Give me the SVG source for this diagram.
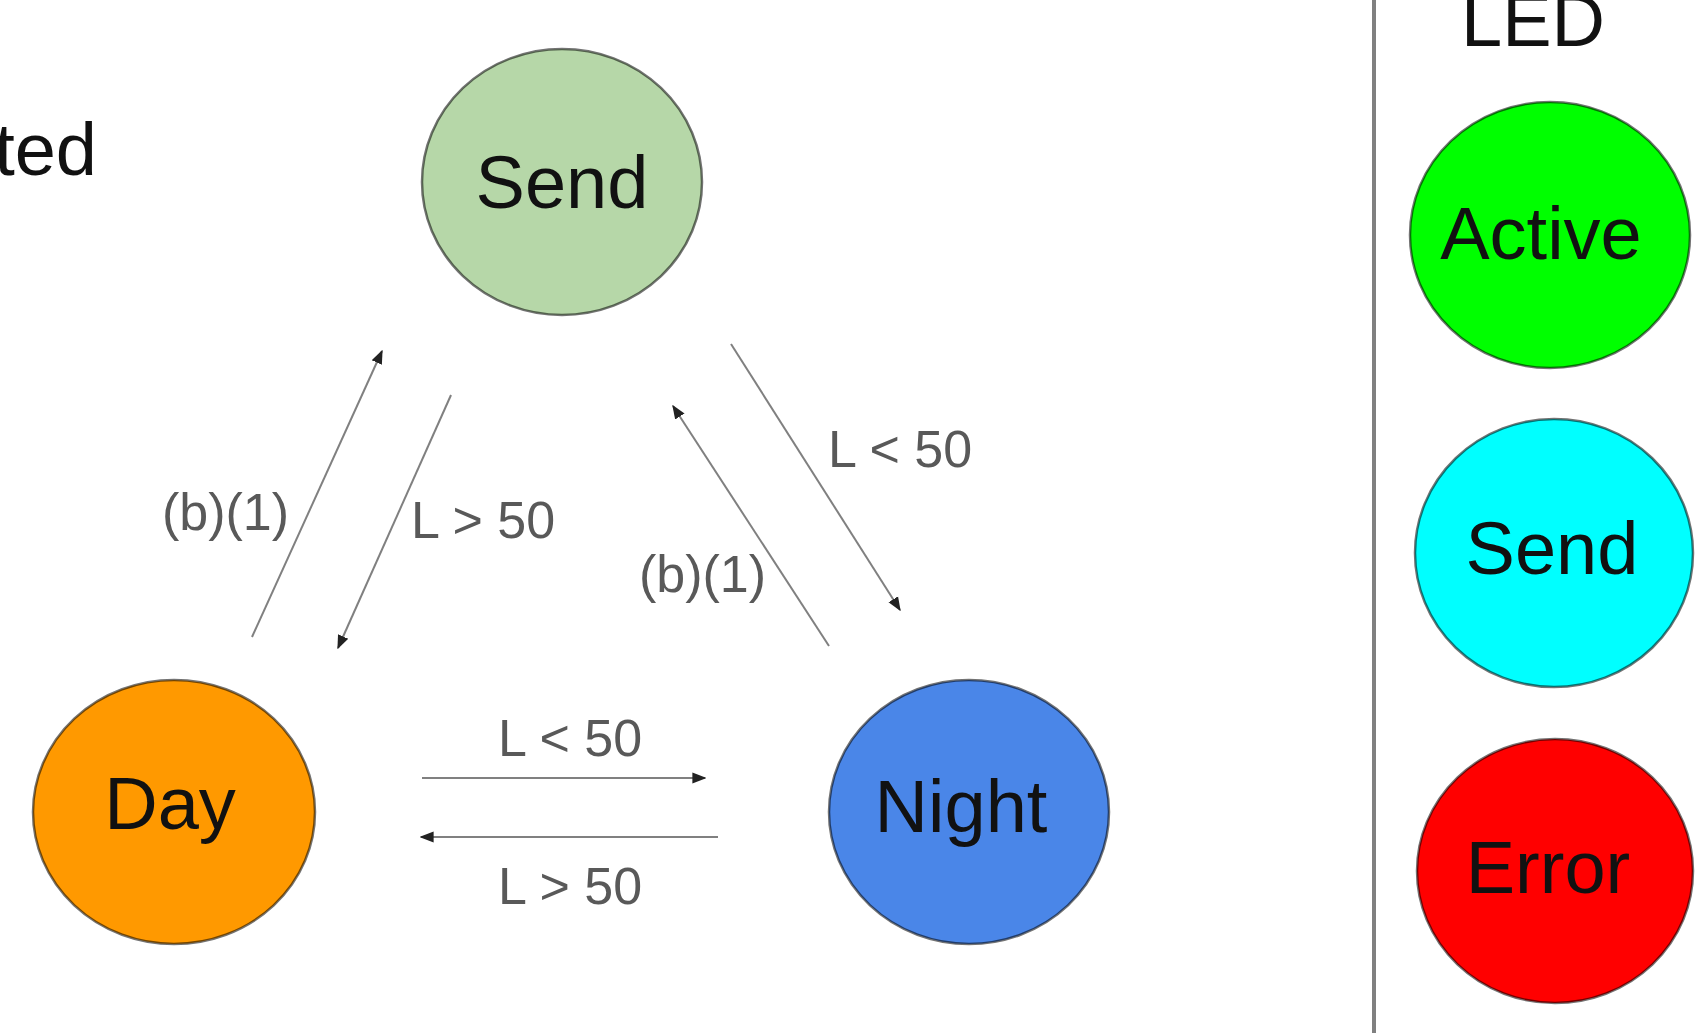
<svg xmlns="http://www.w3.org/2000/svg" width="1698" height="1033" viewBox="0 0 1698 1033">
  <style>
    .node { stroke: #000; stroke-opacity: 0.55; stroke-width: 2.5; }
    .name { font-family: "Liberation Sans", Arial, sans-serif; font-size: 74px; fill: #111; text-anchor: middle; }
    .edge { stroke: #808080; stroke-width: 2; fill: none; marker-end: url(#arrow); }
    .lbl { font-family: "Liberation Sans", Arial, sans-serif; font-size: 52px; fill: #595959; }
  </style>
  <defs>
    <marker id="arrow" viewBox="0 0 10 10" refX="9" refY="5" markerWidth="7" markerHeight="7" orient="auto" markerUnits="strokeWidth">
      <path d="M0,1 L10,5 L0,9 Z" fill="#222"/>
    </marker>
  </defs>
  <rect width="1698" height="1033" fill="#fff"/>

  <!-- partially visible heading at the left edge -->
  <text class="name" x="97" y="175" style="text-anchor:end">ted</text>

  <!-- state machine nodes -->
  <g id="node-send">
    <ellipse class="node" cx="562" cy="182" rx="140" ry="133" fill="#b6d7a8"/>
    <text class="name" x="562" y="208">Send</text>
  </g>
  <g id="node-day">
    <ellipse class="node" cx="174" cy="812" rx="141" ry="132" fill="#ff9900"/>
    <text class="name" x="170" y="829">Day</text>
  </g>
  <g id="node-night">
    <ellipse class="node" cx="969" cy="812" rx="140" ry="132" fill="#4a86e8"/>
    <text class="name" x="961" y="832">Night</text>
  </g>

  <!-- transitions -->
  <g id="connectors">
    <line class="edge" x1="252" y1="637" x2="382" y2="351"/>
    <line class="edge" x1="451" y1="395" x2="338" y2="648"/>
    <line class="edge" x1="829" y1="646" x2="673" y2="406"/>
    <line class="edge" x1="731" y1="344" x2="900" y2="610"/>
    <line class="edge" x1="422" y1="778" x2="705" y2="778"/>
    <line class="edge" x1="718" y1="837" x2="421" y2="837"/>
    <text class="lbl" x="162" y="530">(b)(1)</text>
    <text class="lbl" x="411" y="538">L &gt; 50</text>
    <text class="lbl" x="639" y="592">(b)(1)</text>
    <text class="lbl" x="828" y="467">L &lt; 50</text>
    <text class="lbl" x="498" y="756">L &lt; 50</text>
    <text class="lbl" x="498" y="904">L &gt; 50</text>
  </g>

  <!-- LED legend -->
  <line x1="1374" y1="0" x2="1374" y2="1033" stroke="#808080" stroke-width="4"/>
  <text class="name" x="1533" y="46">LED</text>
  <g id="legend-active">
    <ellipse class="node" cx="1550" cy="235" rx="140" ry="133" fill="#00ff00"/>
    <text class="name" x="1541" y="259">Active</text>
  </g>
  <g id="legend-send">
    <ellipse class="node" cx="1554" cy="553" rx="139" ry="134" fill="#00ffff"/>
    <text class="name" x="1552" y="574">Send</text>
  </g>
  <g id="legend-error">
    <ellipse class="node" cx="1555" cy="871" rx="138" ry="132" fill="#ff0000"/>
    <text class="name" x="1548" y="893">Error</text>
  </g>
</svg>
